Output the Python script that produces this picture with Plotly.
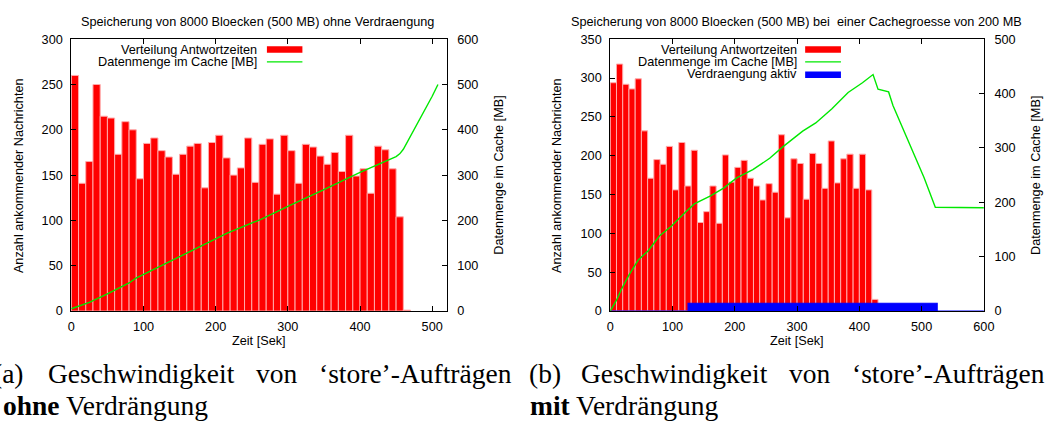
import plotly.graph_objects as go

W, H = 1056, 429

# ---------------- data ----------------
# (a) ohne Verdraengung: messages per 10 s bin (bin start in seconds)
left_bin_start = list(range(0, 470, 10))
left_counts = [260, 141, 165, 250, 215, 213, 173, 209, 200, 146,
               185, 191, 177, 170, 151, 173, 182, 185, 136, 186,
               194, 169, 150, 158, 191, 142, 184, 190, 129, 194,
               177, 141, 184, 181, 171, 162, 175, 154, 194, 149,
               157, 130, 182, 178, 157, 104, 1]
left_cache_t = [0, 12, 25, 50, 80, 89, 125, 171, 216, 262, 267, 300, 350, 400, 450, 455, 460, 470, 480, 490, 500, 508]
left_cache_mb = [5, 11, 19, 38, 62, 72, 100, 137, 172, 202, 206, 231, 268, 306, 341, 347, 357, 386, 415, 445, 474, 500]

# (b) mit Verdraengung
right_bin_start = list(range(0, 430, 10))
right_counts = [294, 318, 292, 286, 299, 232, 171, 195, 189, 212,
                156, 217, 161, 207, 114, 128, 161, 113, 201, 166,
                185, 194, 171, 161, 143, 164, 153, 227, 120, 196,
                190, 144, 203, 190, 158, 219, 165, 196, 202, 158,
                202, 156, 15]
right_cache_t = [0, 10, 18, 30, 45, 61, 79, 98, 119, 135, 161, 182, 203, 229, 256, 277,
                 309, 330, 356, 382, 405, 419, 422, 430, 447, 454, 467, 488, 504, 522, 600]
right_cache_mb = [0, 20, 40, 66, 94, 111, 138, 156, 180, 197, 212, 226, 245, 260, 281, 302,
                  331, 346, 372, 402, 420, 433, 435, 408, 403, 378, 343, 287, 245, 191, 190]
evict_t = [0, 125, 525, 600]
evict_v = [0, 10, 0, 0]

title_a = "Speicherung von 8000 Bloecken (500 MB) ohne Verdraengung"
title_b = "Speicherung von 8000 Bloecken (500 MB) bei  einer Cachegroesse von 200 MB"
xlab = "Zeit [Sek]"
ylab = "Anzahl ankommender Nachrichten"
y2lab = "Datenmenge im Cache [MB]"
leg_bars = "Verteilung Antwortzeiten"
leg_cache = "Datenmenge im Cache [MB]"
leg_evict = "Verdraengung aktiv"

RED = "#ff0000"
GREEN = "#00e800"
BLUE = "#0000ff"
SANS = "Liberation Sans, Arial, sans-serif"
SERIF = "Liberation Serif, Times New Roman, serif"
FS = 12.7


def fx(px):
    return px / W


def fy(py):
    return 1 - py / H


PLOT_TOP, PLOT_BOT = 33.3, 314.3
ydom = [fy(PLOT_BOT), fy(PLOT_TOP)]
xdom_a = [fx(68.3), fx(449)]
xdom_b = [fx(615), fx(994)]

fig = go.Figure()

bar_line = dict(color="#ffaaaa", width=1)
fig.add_trace(go.Bar(x=left_bin_start, y=left_counts, width=10, offset=0,
                     marker=dict(color=RED, line=bar_line),
                     xaxis="x", yaxis="y", showlegend=False))
fig.add_trace(go.Scatter(x=left_cache_t, y=left_cache_mb, mode="lines",
                         line=dict(color=GREEN, width=1.4),
                         xaxis="x", yaxis="y2", showlegend=False))

fig.add_trace(go.Bar(x=right_bin_start, y=right_counts, width=10, offset=0,
                     marker=dict(color=RED, line=bar_line),
                     xaxis="x2", yaxis="y3", showlegend=False))
fig.add_trace(go.Scatter(x=evict_t, y=evict_v, mode="lines", line_shape="hv",
                         fill="tozeroy", fillcolor=BLUE,
                         line=dict(color=BLUE, width=1.2),
                         xaxis="x2", yaxis="y3", showlegend=False))
fig.add_trace(go.Scatter(x=right_cache_t, y=right_cache_mb, mode="lines",
                         line=dict(color=GREEN, width=1.4),
                         xaxis="x2", yaxis="y4", showlegend=False))

tickfont = dict(family=SANS, size=FS, color="#000000")
common = dict(ticks="inside", ticklen=5, tickcolor="#000000", tickwidth=1,
              showline=True, linecolor="#000000", linewidth=1,
              showgrid=False, zeroline=False, tickfont=tickfont)

fig.update_layout(
    width=W, height=H,
    margin=dict(l=0, r=0, t=0, b=0),
    paper_bgcolor="white", plot_bgcolor="white",
    showlegend=False,
    xaxis=dict(domain=xdom_a, range=[0, 520], tickvals=[0, 100, 200, 300, 400, 500],
               anchor="y", mirror="ticks", ticklabelstandoff=4, **common),
    yaxis=dict(domain=ydom, range=[0, 300], tickvals=list(range(0, 301, 50)),
               anchor="x", ticklabelstandoff=5, **common),
    yaxis2=dict(range=[0, 600], tickvals=list(range(0, 601, 100)), overlaying="y",
                side="right", anchor="x", ticklabelstandoff=7, **common),
    xaxis2=dict(domain=xdom_b, range=[0, 600], tickvals=list(range(0, 601, 100)),
                anchor="y3", mirror="ticks", ticklabelstandoff=4, **common),
    yaxis3=dict(domain=ydom, range=[0, 350], tickvals=list(range(0, 351, 50)),
                anchor="x2", ticklabelstandoff=5, **common),
    yaxis4=dict(range=[0, 500], tickvals=list(range(0, 501, 100)), overlaying="y3",
                side="right", anchor="x2", ticklabelstandoff=7, **common),
)

ann = []


def text(px, py, s, size=FS, family=SANS, xanchor="center", yanchor="middle", angle=0):
    ann.append(dict(x=fx(px), y=fy(py), xref="paper", yref="paper", text=s,
                    showarrow=False, xanchor=xanchor, yanchor=yanchor, textangle=angle,
                    font=dict(family=family, size=size, color="#000000")))


# titles
text(257.5, 15, title_a)
text(804, 15, title_b)
# axis titles
text(258.7, 345, xlab)
text(804.5, 345, xlab)
text(16, 174, ylab, angle=-90)
text(561.7, 174, ylab, angle=-90)
text(502.5, 174, y2lab, angle=-90)
text(1047.5, 174, y2lab, angle=-90)
# legends (text right aligned, sample to the right)
text(259, 44.3, leg_bars, xanchor="right")
text(259, 56.7, leg_cache, xanchor="right")
text(806, 44.3, leg_bars, xanchor="right")
text(806, 56.7, leg_cache, xanchor="right")
text(806, 69.7, leg_evict, xanchor="right")

shapes = []


def rect(x0, y0, x1, y1, color):
    shapes.append(dict(type="rect", xref="paper", yref="paper", x0=fx(x0), x1=fx(x1),
                       y0=fy(y1), y1=fy(y0), fillcolor=color, line=dict(width=0)))


def hline(x0, x1, y, color):
    shapes.append(dict(type="line", xref="paper", yref="paper", x0=fx(x0), x1=fx(x1),
                       y0=fy(y), y1=fy(y), line=dict(color=color, width=1.4)))


rect(266.7, 40.7, 302.7, 47.3, RED)
hline(266.7, 302.7, 56.7, GREEN)
rect(812.7, 40.7, 849, 47.3, RED)
hline(812.7, 849, 56.7, GREEN)
rect(812.7, 66.7, 849, 73.3, BLUE)

# captions (justified LaTeX-like lines)
CS = 27.5
L1, L2 = 379.2, 411.7
DX = 540
text(22, L1, "(a)", size=CS, family=SERIF, xanchor="right")
text(43, L1, "Geschwindigkeit", size=CS, family=SERIF, xanchor="left")
text(254, L1, "von", size=CS, family=SERIF, xanchor="left")
text(318, L1, "‘store’-Aufträgen", size=CS, family=SERIF, xanchor="left")
text(-3, L2, "<b>ohne</b> Verdrängung", size=CS, family=SERIF, xanchor="left")
text(531, L1, "(b)", size=CS, family=SERIF, xanchor="left")
text(43 + DX, L1, "Geschwindigkeit", size=CS, family=SERIF, xanchor="left")
text(254 + DX, L1, "von", size=CS, family=SERIF, xanchor="left")
text(318 + DX, L1, "‘store’-Aufträgen", size=CS, family=SERIF, xanchor="left")
text(532, L2, "<b>mit</b> Verdrängung", size=CS, family=SERIF, xanchor="left")

fig.update_layout(annotations=ann, shapes=shapes)
fig.write_html("out.html")
